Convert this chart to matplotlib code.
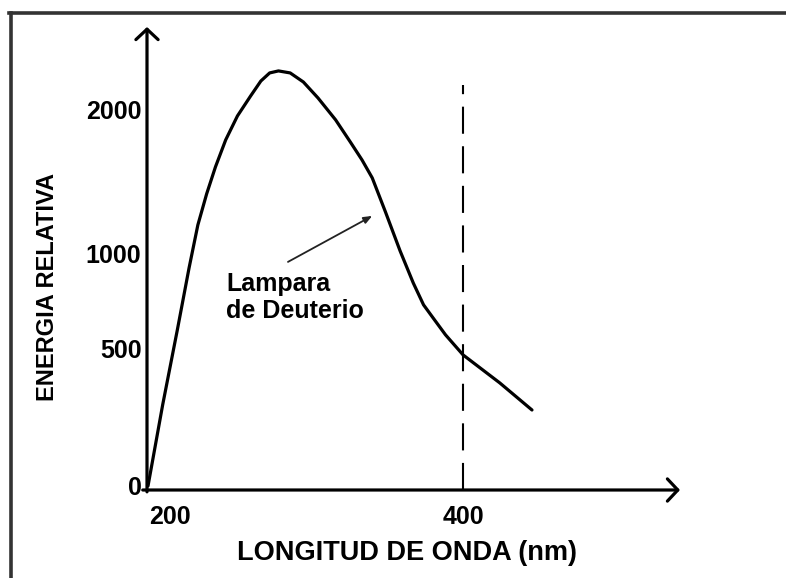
import numpy as np
import matplotlib
matplotlib.use("Agg")
import matplotlib.pyplot as plt
from matplotlib.lines import Line2D

# Deuterium lamp emission curve
wavelength_nm = [185, 195, 205, 213, 219, 225, 231, 238, 246, 255, 262, 268, 274, 282,
                 291, 301, 313, 323, 331, 338, 347, 357, 366, 373, 380, 388, 400, 425, 447]
energy_rel = [0, 296, 600, 926, 1201, 1417, 1604, 1792, 1958, 2097, 2201, 2257, 2271, 2257,
              2194, 2083, 1931, 1778, 1653, 1528, 1292, 1021, 847, 732, 658, 574, 478, 376, 277]

x_ticks = [200, 400]
y_ticks = [0, 500, 1000, 2000]
cutoff_nm = 400
cutoff_top = 2175

# the original energy axis is not linear: tick spacing
E_knots = [-1e5, 0, 500, 1000, 2000, 1e5]
H_knots = [-27400, 0, 137, 232, 376, 14488]


def fwd(e):
    return np.interp(e, E_knots, H_knots)


def inv(h):
    return np.interp(h, H_knots, E_knots)


W, H = 786, 578
fig = plt.figure(figsize=(W / 100, H / 100), dpi=100)
ax = fig.add_axes([147 / W, 1 - 490 / H, (680 - 147) / W, (490 - 27) / H])
ax.set_yscale('function', functions=(fwd, inv))
ax.set_xlim(184.3, 548)
ax.set_ylim(-15, 2576)

for s in ax.spines.values():
    s.set_visible(False)

ax.plot(wavelength_nm, energy_rel, color='black', lw=2.3,
        solid_capstyle='round', solid_joinstyle='round')
ax.plot([cutoff_nm, cutoff_nm], [-15, cutoff_top], color='black', lw=1.5,
        linestyle=(0, (13, 6)))

# axes with open arrowheads
arrow = dict(arrowstyle='->,head_length=0.75,head_width=0.8', lw=2.3, color='black',
             shrinkA=0, shrinkB=0)
ax.annotate('', xy=(0, 1), xytext=(0, -0.004), xycoords='axes fraction', arrowprops=arrow)
ax.annotate('', xy=(1, 0), xytext=(-0.008, 0), xycoords='axes fraction', arrowprops=arrow)

tick_font = dict(family=['Liberation Sans', 'DejaVu Sans'], weight='bold', size=18)
ax.set_xticks(x_ticks)
ax.set_xticklabels([str(v) for v in x_ticks], **tick_font)
ax.set_yticks(y_ticks)
ax.set_yticklabels([str(v) for v in y_ticks], **tick_font)
ax.tick_params(axis='y', length=0, pad=4)
ax.tick_params(axis='x', length=0, pad=11)
ax.minorticks_off()

# label with arrow pointing at the curve
ax.text(238.5, 905, 'Lampara\nde Deuterio', ha='left', va='top', fontsize=18,
        fontweight='bold', family=['Liberation Sans', 'DejaVu Sans'], linespacing=1.15)
ax.annotate('', xy=(338, 1264), xytext=(280.5, 958),
            arrowprops=dict(arrowstyle='-|>,head_length=0.5,head_width=0.2',
                            lw=1.3, color='#222222', shrinkA=0, shrinkB=0))

fig.text(407 / W, 1 - 553 / H, 'LONGITUD DE ONDA (nm)', ha='center', va='center',
         fontsize=19.5, fontweight='bold', family=['Liberation Sans', 'DejaVu Sans'])
fig.text(48 / W, 1 - 287 / H, 'ENERGIA RELATIVA', ha='center', va='center',
         rotation=90, fontsize=17, fontweight='bold',
         family=['Liberation Sans', 'DejaVu Sans'])

# frame around the picture (top and left edges only)
fig.add_artist(Line2D([9 / W, 1], [1 - 13 / H] * 2, transform=fig.transFigure,
                      color='#333333', lw=2.6))
fig.add_artist(Line2D([11 / W] * 2, [0, 1 - 13 / H], transform=fig.transFigure,
                      color='#333333', lw=2.6))

fig.savefig('out.png', dpi=100)
